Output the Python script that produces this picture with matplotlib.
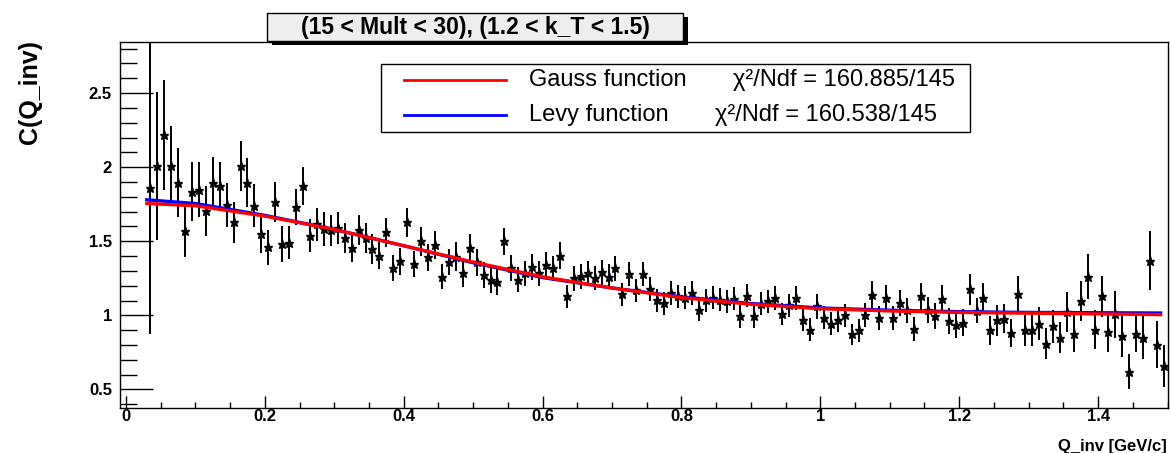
import numpy as np
import matplotlib
matplotlib.use("Agg")
import matplotlib.pyplot as plt
from matplotlib.patches import Rectangle
from matplotlib.lines import Line2D
from matplotlib.ticker import MultipleLocator, FuncFormatter

plt.rcParams['font.family'] = ['Liberation Sans', 'DejaVu Sans']
plt.rcParams['font.weight'] = 'bold'

# C(Q_inv) points, histogram bins of 0.01 starting at 0.03
c_vals = [1.862, 2.008, 2.216, 2.008, 1.896, 1.567, 1.836, 1.847, 1.706, 1.896,
          1.874, 1.746, 1.627, 2.008, 1.896, 1.739, 1.549, 1.459, 1.768, 1.481,
          1.490, 1.733, 1.874, 1.538, 1.616, 1.582, 1.575, 1.589, 1.522, 1.452,
          1.575, 1.522, 1.448, 1.403, 1.560, 1.320, 1.365, 1.627, 1.347, 1.499,
          1.392, 1.477, 1.262, 1.358, 1.397, 1.284, 1.452, 1.358, 1.273, 1.242,
          1.224, 1.499, 1.320, 1.242, 1.284, 1.329, 1.284, 1.340, 1.318, 1.403,
          1.128, 1.251, 1.264, 1.284, 1.250, 1.291, 1.262, 1.318, 1.141, 1.280,
          1.168, 1.280, 1.179, 1.101, 1.083, 1.150, 1.128, 1.119, 1.150, 1.034,
          1.101, 1.119, 1.105, 1.094, 1.112, 0.993, 1.134, 0.993, 1.078, 1.094,
          1.119, 1.011, 1.067, 1.115, 0.971, 0.904, 1.060, 0.984, 0.944, 0.966,
          1.000, 0.872, 0.899, 1.004, 1.139, 0.984, 1.119, 0.984, 1.083, 1.034,
          0.906, 1.128, 1.034, 0.993, 1.108, 0.962, 0.937, 0.951, 1.176, 1.031,
          1.119, 0.899, 0.966, 0.978, 0.881, 1.146, 0.899, 0.899, 0.944, 0.810,
          0.926, 0.850, 1.022, 0.877, 1.096, 1.262, 0.904, 1.128, 0.888, 1.007,
          0.859, 0.619, 0.877, 0.850, 1.370, 0.803, 0.657]
c_errs = [0.990, 0.500, 0.370, 0.270, 0.235, 0.175, 0.200, 0.185, 0.170, 0.175,
          0.160, 0.150, 0.140, 0.170, 0.165, 0.145, 0.125, 0.120, 0.135, 0.120,
          0.110, 0.120, 0.130, 0.110, 0.112, 0.114, 0.105, 0.110, 0.104, 0.095,
          0.100, 0.104, 0.100, 0.090, 0.098, 0.090, 0.090, 0.100, 0.090, 0.095,
          0.090, 0.095, 0.085, 0.088, 0.095, 0.090, 0.095, 0.090, 0.088, 0.088,
          0.088, 0.090, 0.088, 0.085, 0.085, 0.088, 0.085, 0.088, 0.085, 0.090,
          0.075, 0.085, 0.085, 0.085, 0.082, 0.085, 0.082, 0.085, 0.078, 0.082,
          0.080, 0.082, 0.080, 0.078, 0.078, 0.080, 0.080, 0.078, 0.080, 0.073,
          0.078, 0.078, 0.078, 0.078, 0.078, 0.075, 0.080, 0.075, 0.078, 0.078,
          0.080, 0.075, 0.078, 0.080, 0.078, 0.075, 0.082, 0.078, 0.078, 0.080,
          0.080, 0.073, 0.078, 0.082, 0.090, 0.082, 0.088, 0.082, 0.088, 0.085,
          0.082, 0.092, 0.088, 0.088, 0.095, 0.088, 0.090, 0.090, 0.106, 0.085,
          0.100, 0.100, 0.106, 0.100, 0.095, 0.118, 0.104, 0.104, 0.112, 0.106,
          0.112, 0.106, 0.134, 0.123, 0.137, 0.153, 0.131, 0.140, 0.134, 0.157,
          0.138, 0.118, 0.123, 0.146, 0.198, 0.157, 0.140]
q_start, q_width = 0.03, 0.01
q = q_start + q_width * (np.arange(len(c_vals)) + 0.5)

# fit curves
fit_q = [0.03, 0.1, 0.2, 0.3, 0.4, 0.5, 0.6, 0.7, 0.8, 0.9, 1.0, 1.1, 1.2, 1.3, 1.4, 1.49]
gauss_fit = [1.755, 1.74, 1.67, 1.58, 1.47, 1.36, 1.26, 1.185, 1.12, 1.075,
             1.045, 1.03, 1.02, 1.015, 1.01, 1.005]
levy_fit = [1.78, 1.755, 1.675, 1.58, 1.47, 1.355, 1.255, 1.185, 1.125, 1.08,
            1.05, 1.035, 1.025, 1.02, 1.018, 1.016]

title = "(15 < Mult < 30), (1.2 < k_T < 1.5)"
gauss_label = "Gauss function       \u03c7\u00b2/Ndf = 160.885/145"
levy_label = "Levy function       \u03c7\u00b2/Ndf = 160.538/145"

W, H = 1170, 453


def px(x, y):
    return x / W, 1 - y / H


fig = plt.figure(figsize=(W / 100, H / 100), dpi=100)
ax = fig.add_axes([120 / W, 1 - 408 / H, (1167.5 - 120) / W, (408 - 41.7) / H])

ax.errorbar(q, c_vals, yerr=c_errs, fmt='*', color='black', ms=6.5,
            elinewidth=1.4, capsize=0, zorder=2)
ax.plot(fit_q, levy_fit, color='blue', lw=2.4, zorder=3)
ax.plot(fit_q, gauss_fit, color='red', lw=2.4, zorder=4)

ax.set_xlim(-0.0086, 1.5)
ax.set_ylim(0.375, 2.847)
ax.xaxis.set_major_locator(MultipleLocator(0.2))
ax.xaxis.set_minor_locator(MultipleLocator(0.05))
ax.yaxis.set_major_locator(MultipleLocator(0.5))
ax.yaxis.set_minor_locator(MultipleLocator(0.1))
fmt = FuncFormatter(lambda v, p: '%g' % round(v, 3))
ax.xaxis.set_major_formatter(fmt)
ax.yaxis.set_major_formatter(fmt)
ax.tick_params(which='both', direction='in', top=False, right=False, labelsize=12, width=1)
ax.tick_params(axis='y', which='major', length=23.8, pad=5.8)
ax.tick_params(axis='y', which='minor', length=12.2)
ax.tick_params(axis='x', which='major', length=8.6, pad=1)
ax.tick_params(axis='x', which='minor', length=4.3)
for s in ax.spines.values():
    s.set_linewidth(1)

fig.text(30 / W, 1 - 40 / H, "C(Q_inv)", rotation=90, ha='center', va='top',
         fontsize=18, fontweight='bold')
fig.text(1167 / W, 1 - 447 / H, "Q_inv [GeV/c]", ha='right', va='center',
         fontsize=12, fontweight='bold')

# title box with shadow
fig.add_artist(Rectangle(px(271.5, 45), 416 / W, 27.7 / H, transform=fig.transFigure,
                         facecolor='black', edgecolor='none', zorder=5))
fig.add_artist(Rectangle(px(267, 41), 416 / W, 27.7 / H, transform=fig.transFigure,
                         facecolor='#eeeeee', edgecolor='black', lw=1, zorder=6))
fig.text(475 / W, 1 - 27.5 / H, title, ha='center', va='center',
         fontsize=16.5, fontweight='bold', zorder=7)

# legend
fig.add_artist(Rectangle(px(381, 132), 589 / W, 68 / H, transform=fig.transFigure,
                         facecolor='white', edgecolor='black', lw=1, zorder=5))
for yy, col, lab in [(80, 'red', gauss_label), (115, 'blue', levy_label)]:
    fig.add_artist(Line2D([404 / W, 506 / W], [1 - yy / H] * 2, transform=fig.transFigure,
                          color=col, lw=2, zorder=6))
    fig.text(529 / W, 1 - yy / H, lab, ha='left', va='center', fontsize=17,
             fontweight='normal', zorder=7)

fig.savefig("out.png", dpi=100)
